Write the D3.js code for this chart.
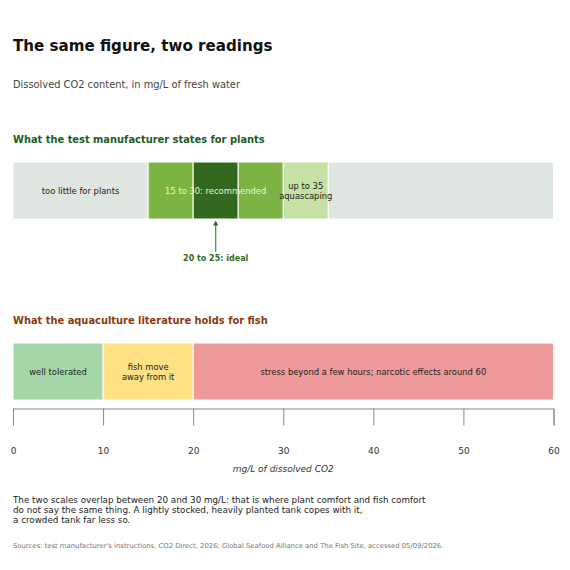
<!DOCTYPE html>
<html><head><meta charset="utf-8">
<script src="https://cdn.jsdelivr.net/npm/d3@7"></script>
<style>body{margin:0;background:#fff}svg{display:block}text{font-family:"DejaVu Sans",sans-serif}</style>
</head><body><svg id="c" width="570" height="570"></svg>
<script>
const plantStarts=[0,15,20,25,30,35];
const plantEnds=[15,20,25,30,35,60];
const plantColors=["#dfe5e1","#7cb342","#33691e","#7cb342","#c5e1a5","#dfe5e1"];
const plantLabels=[["too little for plants"],[],[],[],["up to 35","aquascaping"],[]];
const fishStarts=[0,10,20];
const fishEnds=[10,20,60];
const fishColors=["#a5d6a7","#ffe082","#ef9a9a"];
const fishLabels=[["well tolerated"],["fish move","away from it"],["stress beyond a few hours; narcotic effects around 60"]];
const tickValues=[0,10,20,30,40,50,60];
const recommended=[15,30];
const ideal=[20,25];

const svg=d3.select("#c");
const x=d3.scaleLinear().domain([0,60]).range([13,553.5]);

svg.append("text").attr("x",13).attr("y",51).attr("font-size",15.1).attr("font-weight","bold").attr("fill","#111").text("The same figure, two readings");
svg.append("text").attr("x",13).attr("y",88).attr("font-size",9.85).attr("fill","#444").text("Dissolved CO2 content, in mg/L of fresh water");
svg.append("text").attr("x",13).attr("y",143).attr("font-size",9.9).attr("font-weight","bold").attr("fill","#1b5e20").text("What the test manufacturer states for plants");

const pb=svg.append("g");
const py0=162,py1=219;
pb.selectAll("rect").data(plantStarts).join("rect")
 .attr("x",(d,i)=>x(d)).attr("width",(d,i)=>x(plantEnds[i])-x(d))
 .attr("y",py0).attr("height",py1-py0).attr("fill",(d,i)=>plantColors[i])
 .attr("stroke","#fff").attr("stroke-width",1);
plantStarts.forEach((d,i)=>{
  const lines=plantLabels[i]; if(!lines.length) return;
  const cx=x((d+plantEnds[i])/2), cy=(py0+py1)/2;
  lines.forEach((t,j)=>{
    pb.append("text").attr("x",cx).attr("y",cy+3+(j-(lines.length-1)/2)*10).attr("text-anchor","middle").attr("font-size",8.4).attr("fill","#222").text(t);
  });
});
pb.append("text").attr("x",x((recommended[0]+recommended[1])/2)).attr("y",(py0+py1)/2+3).attr("text-anchor","middle").attr("font-size",8.4).attr("fill","#e8f3df").text(`${recommended[0]} to ${recommended[1]}: recommended`);

// arrow
const ax=x((ideal[0]+ideal[1])/2);
svg.append("defs").append("marker").attr("id","ah").attr("viewBox","0 0 10 10").attr("refX",5).attr("refY",5).attr("markerWidth",4).attr("markerHeight",4).attr("orient","auto")
 .append("path").attr("d","M0,0L10,5L0,10z").attr("fill","#2e6b1f");
svg.append("line").attr("x1",ax).attr("x2",ax).attr("y1",252).attr("y2",223).attr("stroke","#5a8f4f").attr("stroke-width",1.3).attr("marker-end","url(#ah)");
svg.append("text").attr("x",ax).attr("y",261).attr("text-anchor","middle").attr("font-size",8).attr("font-weight","bold").attr("fill","#2e6b1f").text(`${ideal[0]} to ${ideal[1]}: ideal`);

svg.append("text").attr("x",13).attr("y",324).attr("font-size",9.9).attr("font-weight","bold").attr("fill","#8a3a0a").text("What the aquaculture literature holds for fish");

const fb=svg.append("g");
const fy0=343,fy1=400;
fb.selectAll("rect").data(fishStarts).join("rect")
 .attr("x",(d,i)=>x(d)).attr("width",(d,i)=>x(fishEnds[i])-x(d))
 .attr("y",fy0).attr("height",fy1-fy0).attr("fill",(d,i)=>fishColors[i])
 .attr("stroke","#fff").attr("stroke-width",1);
fishStarts.forEach((d,i)=>{
  const lines=fishLabels[i];
  const cx=x((d+fishEnds[i])/2), cy=(fy0+fy1)/2;
  lines.forEach((t,j)=>{
    fb.append("text").attr("x",cx).attr("y",cy+3+(j-(lines.length-1)/2)*10).attr("text-anchor","middle").attr("font-size",8.4).attr("fill","#222").text(t);
  });
});

const axis=d3.axisBottom(x).tickValues(tickValues).tickSize(17).tickPadding(22).tickFormat(d3.format("d"));
const ag=svg.append("g").attr("transform","translate(0,408.5)").call(axis);
ag.select(".domain").attr("stroke","#888");
ag.selectAll(".tick line").attr("stroke","#888");
ag.selectAll(".tick text").attr("font-size",9).attr("fill","#333").attr("font-family","DejaVu Sans");
svg.append("text").attr("x",x(30)).attr("y",472).attr("text-anchor","middle").attr("font-size",9).attr("font-style","italic").attr("fill","#333").text("mg/L of dissolved CO2");

const note=["The two scales overlap between 20 and 30 mg/L: that is where plant comfort and fish comfort","do not say the same thing. A lightly stocked, heavily planted tank copes with it,","a crowded tank far less so."];
note.forEach((t,i)=>svg.append("text").attr("x",13).attr("y",503+i*10).attr("font-size",8.75).attr("fill","#222").text(t));
svg.append("text").attr("x",13).attr("y",548).attr("font-size",6.85).attr("fill","#777").text("Sources: test manufacturer's instructions, CO2 Direct, 2026; Global Seafood Alliance and The Fish Site, accessed 05/09/2026.");
</script></body></html>
